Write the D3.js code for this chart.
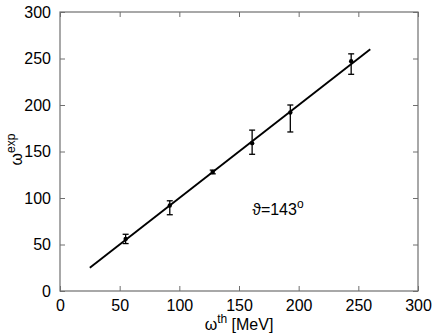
<!DOCTYPE html>
<html>
<head>
<meta charset="utf-8">
<script src="https://cdn.jsdelivr.net/npm/d3@7"></script>
<style>
  body { margin: 0; background: #fff; }
  svg { font-family: "Liberation Sans", Arial, sans-serif; }
  .tick text { font-size: 16px; fill: #000; }
</style>
</head>
<body>
<svg id="chart" width="436" height="334"></svg>
<script>

var omegaTh   = [55, 92, 128, 161, 193, 244];
var omegaExp  = [56, 92, 128, 159, 192, 247];
var errUp     = [5, 5, 2, 14, 8, 8];
var errDown   = [5, 10, 2, 12, 21, 14];
var lineX     = [25, 260];
var tickVals  = [0, 50, 100, 150, 200, 250, 300];

var svg = d3.select('#chart'),
    margin = { top: 12, right: 18, bottom: 43, left: 60 },
    width = 436 - margin.left - margin.right,
    height = 334 - margin.top - margin.bottom,
    x = d3.scaleLinear().domain([0, 300]).range([0, width]),
    y = d3.scaleLinear().domain([0, 300]).range([height, 0]),
    chart = svg.append('g')
        .attr('transform', 'translate(' + margin.left + ',' + margin.top + ')');

var axisColor = '#6f6f6f';

// matlab style frame: ticks pointing inward on all four sides
function styleAxis(g) {
  g.select('.domain').remove();
  g.selectAll('.tick line').attr('stroke', axisColor);
}

chart.append('g')
    .attr('transform', 'translate(0,' + height + ')')
    .call(d3.axisBottom(x).tickValues(tickVals).tickSizeInner(-5).tickSizeOuter(0).tickPadding(9))
    .call(styleAxis);

chart.append('g')
    .call(d3.axisTop(x).tickValues(tickVals).tickSizeInner(-5).tickSizeOuter(0).tickFormat(''))
    .call(styleAxis);

chart.append('g')
    .call(d3.axisLeft(y).tickValues(tickVals).tickSizeInner(-5).tickSizeOuter(0).tickPadding(9))
    .call(styleAxis);

chart.append('g')
    .attr('transform', 'translate(' + width + ',0)')
    .call(d3.axisRight(y).tickValues(tickVals).tickSizeInner(-5).tickSizeOuter(0).tickFormat(''))
    .call(styleAxis);

chart.selectAll('.tick text').attr('font-size', 16);

chart.append('rect')
    .attr('x', 0)
    .attr('y', 0)
    .attr('width', width)
    .attr('height', height)
    .attr('fill', 'none')
    .attr('stroke', axisColor)
    .attr('stroke-width', 1.2);

// theory line omega_exp = omega_th
var lineFunction = d3.line()
    .x(function(d) { return x(d); })
    .y(function(d) { return y(d); });

chart.append('path')
    .attr('d', lineFunction(lineX))
    .attr('stroke', '#000')
    .attr('stroke-width', 1.9)
    .attr('fill', 'none');

// error bars
var pts = omegaTh.map(function(d, i) {
  return { x: d, y: omegaExp[i], hi: omegaExp[i] + errUp[i], lo: omegaExp[i] - errDown[i] };
});

var bars = chart.selectAll('.err').data(pts).enter().append('g').attr('class', 'err');

bars.append('line')
    .attr('x1', function(d) { return x(d.x); })
    .attr('x2', function(d) { return x(d.x); })
    .attr('y1', function(d) { return y(d.hi); })
    .attr('y2', function(d) { return y(d.lo); })
    .attr('stroke', '#000')
    .attr('stroke-width', 1.3);

['hi', 'lo'].forEach(function(k) {
  bars.append('line')
      .attr('x1', function(d) { return x(d.x) - 3; })
      .attr('x2', function(d) { return x(d.x) + 3; })
      .attr('y1', function(d) { return y(d[k]); })
      .attr('y2', function(d) { return y(d[k]); })
      .attr('stroke', '#000')
      .attr('stroke-width', 1.3);
});

bars.append('circle')
    .attr('cx', function(d) { return x(d.x); })
    .attr('cy', function(d) { return y(d.y); })
    .attr('r', 2.2)
    .attr('fill', '#000');

// annotation
var ann = chart.append('text')
    .attr('x', x(161))
    .attr('y', y(82))
    .attr('font-size', 16)
    .attr('fill', '#000');
ann.append('tspan').text('\u03d1=143');
ann.append('tspan').attr('dy', -7).attr('font-size', 12).text('o');

// axis labels
var xl = svg.append('text')
    .attr('x', margin.left + width / 2)
    .attr('y', 330)
    .attr('text-anchor', 'middle')
    .attr('font-size', 16)
    .attr('fill', '#000');
xl.append('tspan').text('\u03c9');
xl.append('tspan').attr('dy', -7).attr('font-size', 12).text('th');
xl.append('tspan').attr('dy', 7).text(' [MeV]');

var yl = svg.append('text')
    .attr('transform', 'translate(22,' + (margin.top + height / 2 - 2) + ') rotate(-90)')
    .attr('text-anchor', 'middle')
    .attr('font-size', 16)
    .attr('fill', '#000');
yl.append('tspan').text('\u03c9');
yl.append('tspan').attr('dy', -7).attr('font-size', 12).text('exp');

</script>
</body>
</html>
